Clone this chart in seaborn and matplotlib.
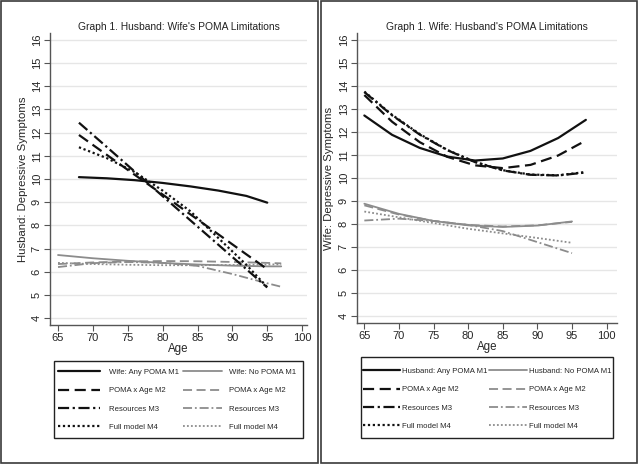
import numpy as np
import pandas as pd
import seaborn as sns
import matplotlib
matplotlib.use("Agg")
import matplotlib.pyplot as plt
from matplotlib.patches import Rectangle

# ---------------- data ----------------
# Left panel: Husband's depressive symptoms by wife's POMA limitations
L_age_any = [68, 72, 76, 80, 84, 88, 92, 95]
L_any_m1 = [10.08, 10.03, 9.95, 9.83, 9.68, 9.50, 9.27, 8.98]
L_any_m2 = [11.90, 11.04, 10.18, 9.33, 8.47, 7.61, 6.75, 6.11]
L_any_m3 = [12.43, 11.38, 10.32, 9.26, 8.21, 7.16, 6.11, 5.32]
L_any_m4 = [11.37, 10.90, 10.30, 9.50, 8.60, 7.45, 6.30, 5.33]

L_age_no = [65, 70, 75, 80, 85, 90, 95, 97]
L_no_m1 = [6.72, 6.58, 6.47, 6.38, 6.31, 6.26, 6.23, 6.23]
L_no_m2 = [6.33, 6.40, 6.44, 6.46, 6.45, 6.42, 6.38, 6.36]
L_no_m3 = [6.20, 6.37, 6.42, 6.38, 6.25, 5.90, 5.50, 5.35]
L_no_m4 = [6.38, 6.33, 6.30, 6.28, 6.28, 6.29, 6.31, 6.32]

# Right panel: Wife's depressive symptoms by husband's POMA limitations
R_age_any = [65, 69, 73, 77, 81, 85, 89, 93, 97]
R_any_m1 = [12.71, 11.87, 11.30, 10.92, 10.75, 10.84, 11.17, 11.73, 12.52]
R_any_m2 = [13.60, 12.44, 11.55, 10.91, 10.54, 10.42, 10.56, 10.97, 11.62]
R_any_m3 = [13.73, 12.72, 11.88, 11.20, 10.68, 10.32, 10.13, 10.10, 10.23]
R_any_m4 = [13.75, 12.74, 11.90, 11.21, 10.69, 10.33, 10.14, 10.11, 10.25]

R_age_no = [65, 70, 75, 80, 85, 90, 95]
R_no_m1 = [8.87, 8.43, 8.12, 7.93, 7.86, 7.92, 8.10]
R_no_m2 = [8.80, 8.40, 8.12, 7.95, 7.88, 7.93, 8.08]
R_no_m3 = [8.14, 8.22, 8.12, 7.95, 7.68, 7.20, 6.72]
R_no_m4 = [8.53, 8.28, 8.03, 7.78, 7.58, 7.38, 7.17]

model_labels = ["POMA x Age M2", "Resources M3", "Full model M4"]
x_ticks = [65, 70, 75, 80, 85, 90, 95, 100]
y_ticks = list(range(4, 17))

# ---------------- styling ----------------
sns.set_style("white")
plt.rcParams['font.family'] = ['Liberation Sans', 'DejaVu Sans']

BLACK = "#111111"
GREY = "#8c8c8c"
styles = ["-", (0, (5, 2.5)), (0, (5, 1.6, 1, 1.6)), (0, (1, 1.2))]
LW_B, LW_G = 1.6, 1.3
LEG_FS = 5.6

W, H = 640, 465
fig = plt.figure(figsize=(W / 100, H / 100), dpi=100)

def fx(px):
    return px / W

def fy(py):
    return 1 - py / H

def frame(x0, y0, x1, y1, color, lw):
    fig.patches.append(Rectangle((fx(x0), fy(y1)), (x1 - x0) / W, (y1 - y0) / H,
                                 transform=fig.transFigure, fill=False,
                                 edgecolor=color, lw=lw, zorder=0))

# panel frames
frame(1, 1, 318, 463, "#3a3a3a", 1.2)
frame(321, 1, 637, 463, "#3a3a3a", 1.2)

def make_df(age, series):
    rows = []
    for name, vals in series:
        for a, v in zip(age, vals):
            rows.append({"Age": a, "value": v, "series": name})
    return pd.DataFrame(rows)

def column_legend(handles, labels, x_px, top_px, hlen_px, gap_px):
    fs_px = LEG_FS * 100 / 72
    fig.legend(handles, labels, ncol=1, loc="upper left",
               bbox_to_anchor=(fx(x_px), fy(top_px)),
               bbox_transform=fig.transFigure, fontsize=LEG_FS,
               frameon=False, handlelength=hlen_px / fs_px,
               handletextpad=gap_px / fs_px, labelspacing=1.4,
               borderpad=0, borderaxespad=0)

def panel(ax_box, title, ylabel, any_label, no_label, age_any, any_vals,
          age_no, no_vals, xlim, ylim, leg):
    ax = fig.add_axes(ax_box)
    ax.set_facecolor("white")
    names_any = [any_label] + model_labels
    names_no = [no_label] + model_labels
    df_any = make_df(age_any, list(zip(names_any, any_vals)))
    df_no = make_df(age_no, list(zip(names_no, no_vals)))
    for i, name in enumerate(names_any):
        d = df_any[df_any["series"] == name]
        sns.lineplot(data=d, x="Age", y="value", ax=ax, color=BLACK, lw=LW_B,
                     linestyle=styles[i], errorbar=None, estimator=None,
                     sort=False, label=name, zorder=4)
    for i, name in enumerate(names_no):
        d = df_no[df_no["series"] == name]
        sns.lineplot(data=d, x="Age", y="value", ax=ax, color=GREY, lw=LW_G,
                     linestyle=styles[i], errorbar=None, estimator=None,
                     sort=False, label=name, zorder=3)
    h, l = ax.get_legend_handles_labels()
    ax.get_legend().remove()

    ax.set_xlim(*xlim)
    ax.set_ylim(*ylim)
    ax.set_xticks(x_ticks)
    ax.set_yticks(y_ticks)
    ax.yaxis.grid(True, color="#e6e6e6", lw=1.0)
    ax.xaxis.grid(False)
    ax.set_axisbelow(True)
    for s in ["top", "right"]:
        ax.spines[s].set_visible(False)
    for s in ["left", "bottom"]:
        ax.spines[s].set_color("#555555")
        ax.spines[s].set_linewidth(1.0)
    ax.tick_params(axis="both", direction="out", length=4, width=0.8,
                   color="#555555", labelsize=8, pad=2, left=True, bottom=True)
    for lab in ax.get_yticklabels():
        lab.set_rotation(90)
        lab.set_va("center")
    ax.set_xlabel("Age", fontsize=8.3, labelpad=0)
    ax.set_ylabel(ylabel, fontsize=8.2, labelpad=3)
    ax.set_title(title, fontsize=7.4, pad=2, color="#222222")

    (fx0, fy0, fx1, fy1), top, c1, c2 = leg
    frame(fx0, fy0, fx1, fy1, "#222222", 1.0)
    column_legend(h[:4], l[:4], c1[0], top, c1[1], c1[2])
    column_legend(h[4:], l[4:], c2[0], top, c2[1], c2[2])
    return ax

# Left panel
panel([fx(50), fy(325), fx(307 - 50), (325 - 33) / H],
      "Graph 1. Husband: Wife's POMA Limitations",
      "Husband: Depressive Symptoms",
      "Wife: Any POMA M1", "Wife: No POMA M1",
      L_age_any, [L_any_m1, L_any_m2, L_any_m3, L_any_m4],
      L_age_no, [L_no_m1, L_no_m2, L_no_m3, L_no_m4],
      (63.85, 100.7), (3.7, 16.3),
      ((54, 361, 303, 438), 368.5, (58, 42, 9), (183, 39, 7)))

# Right panel
panel([fx(357), fy(323), fx(617 - 357), (323 - 33) / H],
      "Graph 1. Wife: Husband's POMA Limitations",
      "Wife: Depressive Symptoms",
      "Husband: Any POMA M1", "Husband: No POMA M1",
      R_age_any, [R_any_m1, R_any_m2, R_any_m3, R_any_m4],
      R_age_no, [R_no_m1, R_no_m2, R_no_m3, R_no_m4],
      (63.94, 101.5), (3.68, 16.3),
      ((361, 357, 613, 438), 367.5, (363, 37, 2), (489, 38, 2)))

fig.savefig("out.png", dpi=100, facecolor="white")
